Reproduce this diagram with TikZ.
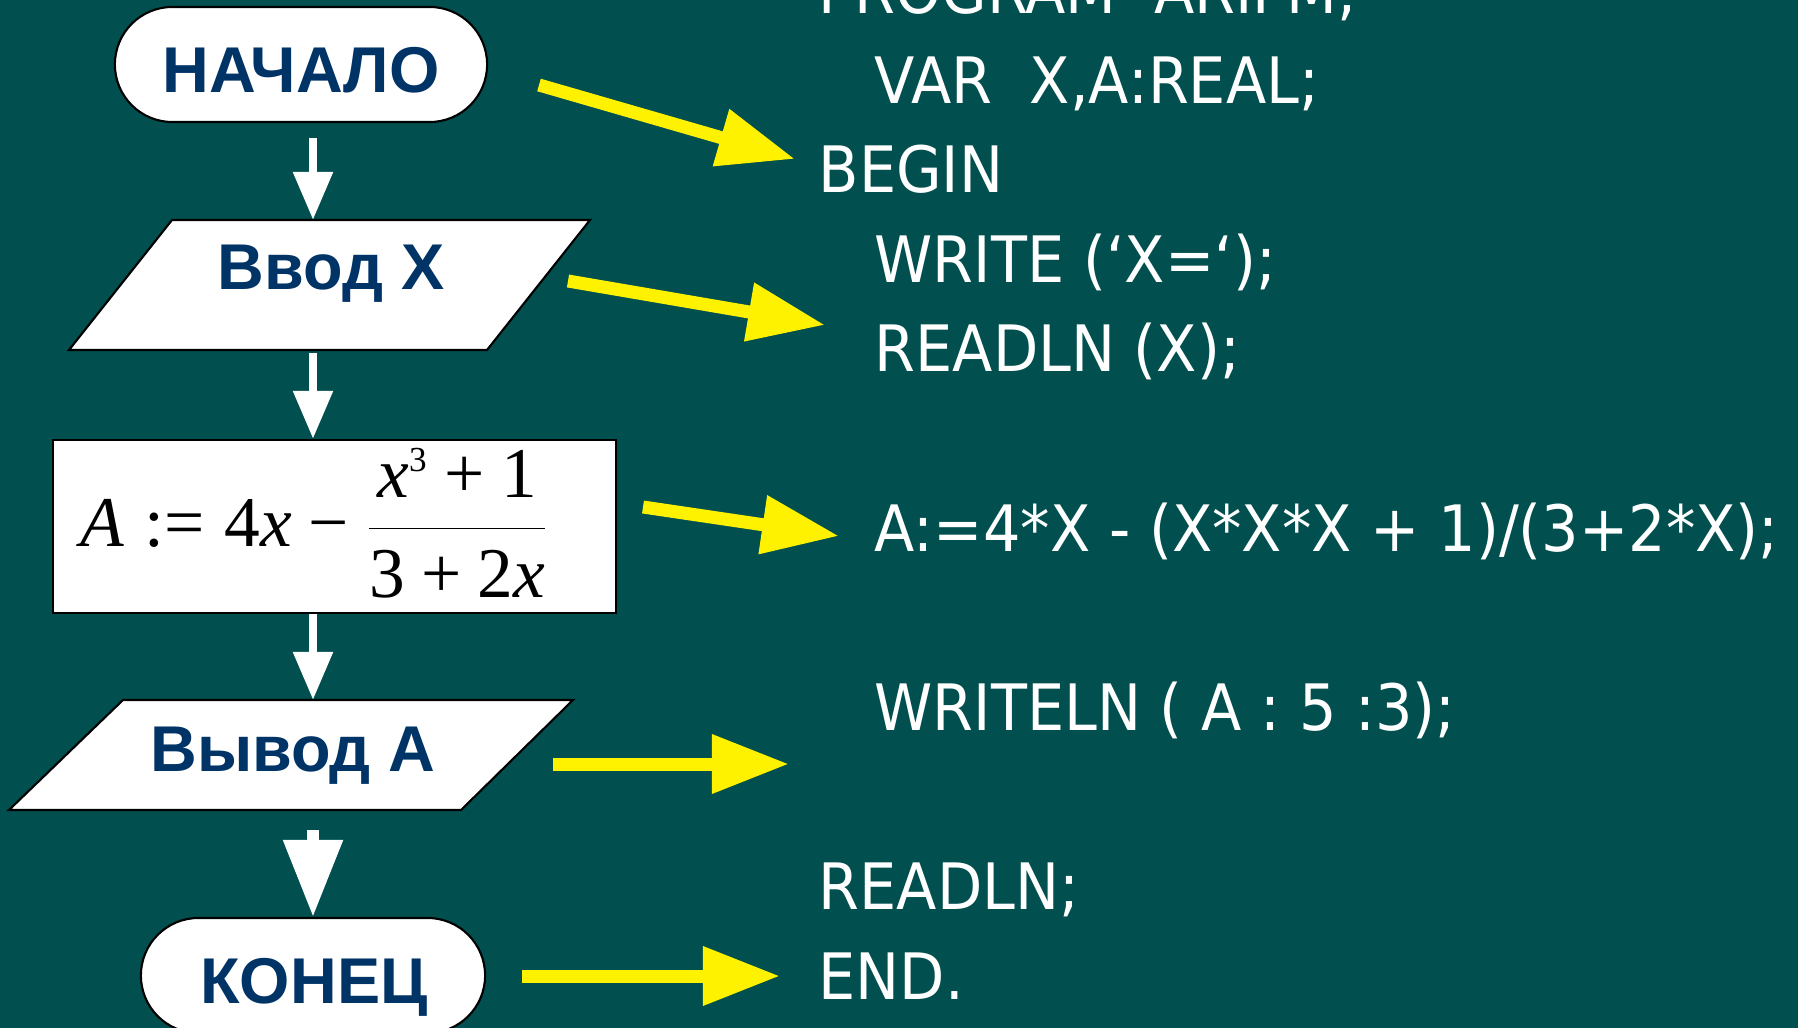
\documentclass[tikz,border=0pt]{standalone}
\usepackage{fontspec}
\usetikzlibrary{arrows.meta}
\newfontfamily\lblfont{Liberation Sans}
\newfontfamily\codefont[FakeStretch=0.92]{DejaVu Sans}
\newfontfamily\fmfont{Liberation Serif}
% formula pieces set in a Times-like face
\newcommand{\fv}[1]{\mbox{\fmfont\itshape #1}}
\newcommand{\fn}[1]{\mbox{\fmfont #1}}
\newcommand{\fsup}[1]{\mbox{\fmfont\fontsize{10pt}{11pt}\selectfont #1}}
\definecolor{bg}{RGB}{1,79,79}
\definecolor{navy}{RGB}{0,51,102}

\begin{document}
\begin{tikzpicture}[x=0.01cm,y=-0.01cm,
  shapebox/.style={draw=black, line width=0.6pt, fill=white, inner sep=0pt},
  term/.style={shapebox, minimum height=1.15cm, rounded corners=0.575cm},
  lbl/.style={text=navy, font=\lblfont\bfseries\fontsize{18.4pt}{20pt}\selectfont, anchor=base, inner sep=0pt},
  code/.style={text=white, font=\codefont\fontsize{18.2pt}{20pt}\selectfont, anchor=base west, inner sep=0pt},
  flow/.style={draw=white, line width=0.085cm, -{Triangle[length=0.48cm,width=0.38cm]}},
  bigflow/.style={draw=white, line width=0.12cm, -{Triangle[length=0.77cm,width=0.57cm]}},
  hint/.style={draw=yellow, line width=0.13cm, -{Triangle[length=0.77cm,width=0.56cm]}}]

% page and background
\useasboundingbox (0,0) rectangle (1798,1028);
\fill[bg] (0,0) rectangle (1798,1028);

% vertical axis of the flow chart
\coordinate (spine) at (313,0);

% --- flow chart ---
\node[term, minimum width=3.72cm] (start) at (301,64.5) {};
\node[lbl] (startT) at (301,93) {НАЧАЛО};

\coordinate (inTL) at (172,220);
\coordinate (inTR) at (590,220);
\coordinate (inBR) at (487,350);
\coordinate (inBL) at (69,350);
\draw[shapebox] (inTL) -- (inTR) -- (inBR) -- (inBL) -- cycle;
\node[lbl] (inT) at (331,290) {Ввод X};

\node[shapebox, minimum width=5.63cm, minimum height=1.73cm] (calc) at (334.5,526.5) {};
\node[inner sep=0pt, anchor=base west, font=\fontsize{20.3pt}{22pt}\selectfont] (calcT) at (80,547)
  {$\displaystyle \fv{A}\mathrel{\fn{:=}}\fn{4}\fv{x}\mathbin{\fn{−}}
    \frac{\fv{x}^{\fsup{3}}\mathbin{\fn{+}}\fn{1}}{\fn{3}\mathbin{\fn{+}}\fn{2}\fv{x}}$};

\coordinate (outTL) at (123,700);
\coordinate (outTR) at (573,700);
\coordinate (outBR) at (461,810);
\coordinate (outBL) at (9,810);
\draw[shapebox] (outTL) -- (outTR) -- (outBR) -- (outBL) -- cycle;
\node[lbl] (outT) at (293,771) {Вывод A};

\node[term, minimum width=3.44cm] (stop) at (313,975.5) {};
\node[lbl] (stopT) at (314,1003) {КОНЕЦ};

% flow arrows
\draw[flow, shorten <=0.15cm] (spine |- start.south) -- (spine |- inTL);
\draw[flow, shorten <=0.03cm] (spine |- inBL) -- (spine |- calc.north);
\draw[flow] (spine |- calc.south) -- (spine |- outTL);
\draw[bigflow, shorten <=0.2cm] (spine |- outBL) -- (spine |- stop.north);

% --- program text ---
\node[code] (c1) at (818,14)  {PROGRAM~~ARIFM;};
\node[code] (c2) at (874,104) {VAR~~X,A:REAL;};
\node[code] (c3) at (818,193) {BEGIN};
\node[code] (c4) at (874,283) {WRITE (‘X=‘);};
\node[code] (c5) at (874,372) {READLN (X);};
\node[code] (c6) at (874,551) {A:=4*X - (X*X*X + 1)/(3+2*X);};
\node[code] (c7) at (874,730) {WRITELN ( A : 5 :3);};
\node[code] (c8) at (818,909) {READLN;};
\node[code] (c9) at (818,999) {END.};

% --- pointers from blocks to statements ---
\coordinate (h1a) at (539,85);  \coordinate (h1b) at (795,159);
\coordinate (h2a) at (568,281); \coordinate (h2b) at (825,325);
\coordinate (h3a) at (643,507); \coordinate (h3b) at (839,536);
\coordinate (h4a) at (553,764); \coordinate (h4b) at (789,764);
\coordinate (h5a) at (522,976); \coordinate (h5b) at (780,976);
\draw[hint] (h1a) -- (h1b);
\draw[hint] (h2a) -- (h2b);
\draw[hint] (h3a) -- (h3b);
\draw[hint] (h4a) -- (h4b);
\draw[hint] (h5a) -- (h5b);
\end{tikzpicture}
\end{document}
